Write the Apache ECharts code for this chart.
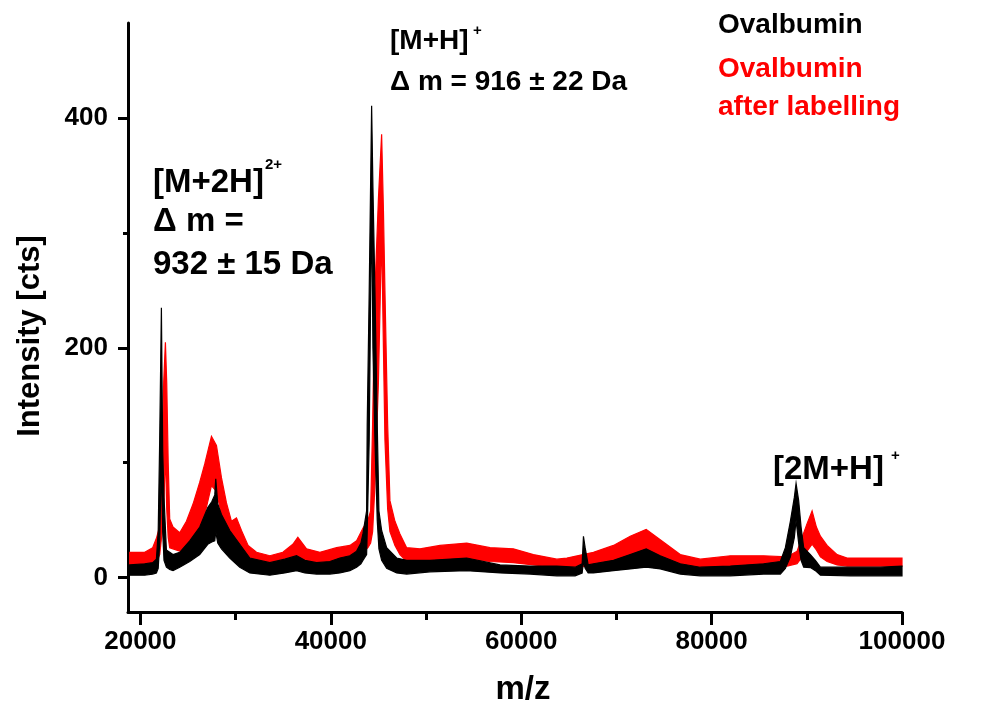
<!DOCTYPE html>
<html><head><meta charset="utf-8">
<script src="https://cdn.jsdelivr.net/npm/echarts@6/dist/echarts.min.js"></script>
<style>html,body{margin:0;padding:0;background:#fff}#c{width:987px;height:708px}</style>
</head><body><div id="c"></div>
<script>
// Ovalbumin (black): m/z, upper and lower edge of the noisy trace
const blackX = [18875,20452,21293,21682,21872,22029,22208,22345,22482,22734,
  23081,23428,24132,25184,26235,27077,27497,27813,27918,28128,
  28517,29390,30441,31493,33596,35173,36403,37276,38506,39905,
  40956,42008,42712,43164,43375,43764,43827,44037,44290,44427,
  44637,44879,45057,45341,45867,46918,47970,50420,54279,57781,
  60936,63743,65667,66403,66540,66718,67034,67591,69694,71450,
  73132,74605,76708,78811,81966,85467,87222,87748,88274,88694,
  88873,89146,89399,89673,90378,90903,91429,94584,97738,100000];
const blackHi = [11,12,13,16,40,120,235,110,70,24,
  22,20,22,32,44,61,66,72,86,64,
  55,41,29,17,13,16,19,15,13,14,
  17,19,23,30,38,58,134,250,411,340,
  250,134,58,41,26,17,15,15,17,11,
  10,10,9,12,36,26,11,12,15,20,
  25,19,12,9,10,12,14,26,49,70,
  82,67,44,26,20,15,9,9,9,10];
const blackLo = [2,2,3,4,8,30,100,40,15,9,
  7,6,9,14,20,29,31,32,40,30,
  25,17,9,4,2,4,6,4,3,3,
  4,6,9,12,15,20,40,120,330,200,
  120,50,25,15,8,4,3,5,6,4,
  3,1.5,1.5,4,14,8,4,4,6,7.5,
  9,7.5,3,1.5,1.5,3,3,8,18,35,
  50,30,15,9,8.7,6,2,1.5,1.5,1.5];

// Ovalbumin after labelling (red)
const redX = [18875,20452,21293,21714,22029,22292,22450,22629,22766,22923,
  23081,23428,24132,24837,25531,26235,26761,27466,27991,28517,
  29043,29569,30094,30620,31314,32197,33596,34963,36014,36540,
  37455,38853,40609,42008,42712,43375,43901,44185,44395,44637,
  45004,45341,45530,45688,45972,46214,46740,47266,47970,49369,
  51472,54279,56729,59179,61282,63743,64794,67591,69694,71450,
  73132,74605,76708,78811,81966,85467,87926,88978,89504,90030,
  90556,91008,91429,92133,93185,94236,96686,100000];
const redHi = [22,22,26,35,45,110,170,205,170,100,
  51,44,39,49,64,83,99,123,115,87,
  65,49,52,41,28,22,19,22,29,35,
  25,22,26,28,32,43,50,58,134,250,
  330,386,320,250,134,67,49,38,26,25,
  28,30,26,25,20,16,17,22,28,36,
  42,33,20,16,19,19,18,23,35,47,
  58,44,36,28,20,17,17,17];
const redLo = [11,11,12,14,20,40,60,110,60,35,
  26,25,23,25,30,40,55,80,75,55,
  40,30,28,22,15,12,11,12,16,18,
  14,12,14,16,18,22,26,30,40,80,
  170,300,200,120,60,40,28,20,14,14,
  15,16,14,13,11,9,9,10,13,18,
  22,17,11,9,10,10,10,12,18,23,
  29,24,18,14,11,10,10,10];

const xTicks = [20000, 40000, 60000, 80000, 100000];
const xMinorTicks = [30000, 50000, 70000, 90000];
const yTicks = [0, 200, 400];
const yMinorTicks = [100, 300];
const xRange = [18700, 100000];
const yRange = [-30, 483];

const FONT = '"Liberation Sans", Arial, sans-serif';

function band(name, xs, hi, lo, color, z) {
  return {
    type: 'custom', name: name, z: z, silent: true, animation: false,
    coordinateSystem: 'cartesian2d', xAxisIndex: 0, yAxisIndex: 0,
    data: [[xs[0], hi[0]]],
    renderItem: function (params, api) {
      const pts = [];
      for (let i = 0; i < xs.length; i++) pts.push(api.coord([xs[i], hi[i]]));
      for (let i = xs.length - 1; i >= 0; i--) pts.push(api.coord([xs[i], lo[i]]));
      return { type: 'polygon', shape: { points: pts },
        style: { fill: color, stroke: color, lineWidth: 1.2, lineJoin: 'miter' } };
    }
  };
}

const axisCommonX = { type: 'value', min: xRange[0], max: xRange[1], position: 'bottom', splitLine: { show: false } };
const axisCommonY = { type: 'value', min: yRange[0], max: yRange[1], position: 'left', splitLine: { show: false } };

const chart = echarts.init(document.getElementById('c'), null, { renderer: 'canvas' });
chart.setOption({
  animation: false,
  backgroundColor: '#fff',
  grid: { left: 128, right: 85, top: 23, bottom: 96, containLabel: false },
  xAxis: [
    Object.assign({}, axisCommonX, {
      axisLine: { show: true, onZero: false, lineStyle: { color: '#000', width: 3, cap: 'round' } },
      axisTick: { show: true, customValues: xTicks, length: 13, lineStyle: { color: '#000', width: 3 } },
      axisLabel: { customValues: xTicks, formatter: function (v) { return String(v); },
        fontSize: 26, fontWeight: 'bold', color: '#000', fontFamily: FONT, margin: 17 }
    }),
    Object.assign({}, axisCommonX, {
      axisLine: { show: false, onZero: false },
      axisTick: { show: true, customValues: xMinorTicks, length: 8, lineStyle: { color: '#000', width: 3 } },
      axisLabel: { show: false }
    })
  ],
  yAxis: [
    Object.assign({}, axisCommonY, {
      axisLine: { show: true, onZero: false, lineStyle: { color: '#000', width: 3, cap: 'round' } },
      axisTick: { show: true, customValues: yTicks, length: 10, lineStyle: { color: '#000', width: 3 } },
      axisLabel: { customValues: yTicks, formatter: function (v) { return String(v); },
        fontSize: 26, fontWeight: 'bold', color: '#000', fontFamily: FONT, margin: 20 }
    }),
    Object.assign({}, axisCommonY, {
      axisLine: { show: false, onZero: false },
      axisTick: { show: true, customValues: yMinorTicks, length: 5, lineStyle: { color: '#000', width: 3 } },
      axisLabel: { show: false }
    })
  ],
  series: [
    band('Ovalbumin after labelling', redX, redHi, redLo, '#ff0000', 2),
    band('Ovalbumin', blackX, blackHi, blackLo, '#000000', 3)
  ],
  graphic: [
    { type: 'text', x: 523, y: 690, style: { text: 'm/z', font: 'bold 33px ' + FONT, fill: '#000', align: 'center', verticalAlign: 'middle' } },
    { type: 'text', x: 30, y: 336, rotation: Math.PI / 2, style: { text: 'Intensity [cts]', font: 'bold 31px ' + FONT, fill: '#000', align: 'center', verticalAlign: 'middle' } },
    { type: 'text', x: 390, y: 41, style: { text: '[M+H]', font: 'bold 28px ' + FONT, fill: '#000', verticalAlign: 'middle' } },
    { type: 'text', x: 473, y: 31, style: { text: '+', font: 'bold 15px ' + FONT, fill: '#000', verticalAlign: 'middle' } },
    { type: 'text', x: 390, y: 82, style: { text: '\u0394 m = 916 \u00b1 22 Da', font: 'bold 28px ' + FONT, fill: '#000', verticalAlign: 'middle' } },
    { type: 'text', x: 718, y: 25, style: { text: 'Ovalbumin', font: 'bold 28px ' + FONT, fill: '#000', verticalAlign: 'middle' } },
    { type: 'text', x: 718, y: 69, style: { text: 'Ovalbumin', font: 'bold 28px ' + FONT, fill: '#ff0000', verticalAlign: 'middle' } },
    { type: 'text', x: 718, y: 107, style: { text: 'after labelling', font: 'bold 28px ' + FONT, fill: '#ff0000', verticalAlign: 'middle' } },
    { type: 'text', x: 153, y: 183, style: { text: '[M+2H]', font: 'bold 33px ' + FONT, fill: '#000', verticalAlign: 'middle' } },
    { type: 'text', x: 265, y: 165, style: { text: '2+', font: 'bold 15px ' + FONT, fill: '#000', verticalAlign: 'middle' } },
    { type: 'text', x: 153, y: 222, style: { text: '\u0394 m =', font: 'bold 33px ' + FONT, fill: '#000', verticalAlign: 'middle' } },
    { type: 'text', x: 153, y: 265, style: { text: '932 \u00b1 15 Da', font: 'bold 33px ' + FONT, fill: '#000', verticalAlign: 'middle' } },
    { type: 'text', x: 773, y: 470, style: { text: '[2M+H]', font: 'bold 33px ' + FONT, fill: '#000', verticalAlign: 'middle' } },
    { type: 'text', x: 891, y: 456, style: { text: '+', font: 'bold 15px ' + FONT, fill: '#000', verticalAlign: 'middle' } }
  ]
});
</script>
</body></html>
